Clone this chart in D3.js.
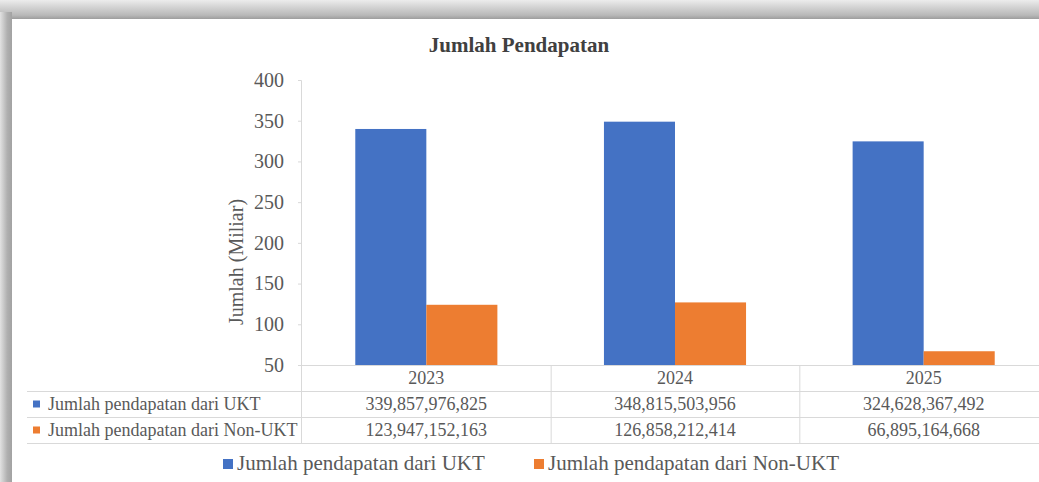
<!DOCTYPE html>
<html>
<head>
<meta charset="utf-8">
<script src="https://cdn.jsdelivr.net/npm/d3@7"></script>
<style>
  body { margin: 0; background: #fff; }
  text { font-family: 'Liberation Serif', 'Times New Roman', serif; }
</style>
</head>
<body>
<div id="chart"></div>
<script>
const years = ['2023', '2024', '2025'];
const seriesNames = ['Jumlah pendapatan dari UKT', 'Jumlah pendapatan dari Non-UKT'];
const uktValues = [339857976825, 348815503956, 324628367492];
const nonUktValues = [123947152163, 126858212414, 66895164668];
const yTicks = [50, 100, 150, 200, 250, 300, 350, 400];
const colors = ['#4472C4', '#ED7D31'];

const W = 1039;
const H = 482;
const plot = { left: 302, right: 1048, top: 80, bottom: 365 };
const rowH = 26;
const tableLeft = 27;
const textColor = '#595959';
const lineColor = '#d9d9d9';

const series = [uktValues, nonUktValues];
const fmt = d3.format(',');

const svg = d3
  .select('#chart')
  .append('svg')
  .attr('width', W)
  .attr('height', H);

// frame shadow around the page (top and left bands)
const defs = svg.append('defs');
const topGrad = defs.append('linearGradient').attr('id', 'top-band').attr('x1', 0).attr('y1', 0).attr('x2', 0).attr('y2', 1);
topGrad.append('stop').attr('offset', '0%').attr('stop-color', '#ececec');
topGrad.append('stop').attr('offset', '80%').attr('stop-color', '#b8b8b8');
topGrad.append('stop').attr('offset', '100%').attr('stop-color', '#9d9d9d');
const leftGrad = defs.append('linearGradient').attr('id', 'left-band').attr('x1', 0).attr('y1', 0).attr('x2', 1).attr('y2', 0);
leftGrad.append('stop').attr('offset', '0%').attr('stop-color', '#e2e2e2');
leftGrad.append('stop').attr('offset', '60%').attr('stop-color', '#b0b0b0');
leftGrad.append('stop').attr('offset', '100%').attr('stop-color', '#a2a2a2');

svg.append('rect').attr('x', 0).attr('y', 0).attr('width', W).attr('height', 19).attr('fill', 'url(#top-band)');
svg.append('rect').attr('x', 0).attr('y', 12).attr('width', 12).attr('height', H - 12).attr('fill', 'url(#left-band)');

// scales
const x = d3.scaleBand().domain(years).range([plot.left, plot.right]).padding(0);
const barW = x.bandwidth() / 3.5;
const x1 = d3
  .scaleBand()
  .domain(d3.range(series.length))
  .range([barW * 0.75, x.bandwidth() - barW * 0.75]);
const y = d3.scaleLinear().domain([50, 400]).range([plot.bottom, plot.top]);

// title
svg
  .append('text')
  .attr('x', 519)
  .attr('y', 52)
  .attr('text-anchor', 'middle')
  .attr('font-size', 21)
  .attr('font-weight', 'bold')
  .attr('fill', '#404040')
  .text('Jumlah Pendapatan');

// y axis
const yAxis = svg
  .append('g')
  .attr('transform', `translate(${plot.left - 1},0)`)
  .call(d3.axisLeft(y).tickValues(yTicks).tickSize(3).tickPadding(14));
yAxis.select('.domain').attr('stroke', lineColor);
yAxis.selectAll('.tick line').attr('stroke', lineColor);
yAxis
  .selectAll('.tick text')
  .attr('font-size', 20)
  .attr('font-family', "'Liberation Serif', serif")
  .attr('fill', textColor);

svg
  .append('text')
  .attr('transform', 'translate(236,262) rotate(-90)')
  .attr('text-anchor', 'middle')
  .attr('dominant-baseline', 'central')
  .attr('font-size', 20)
  .attr('fill', textColor)
  .text('Jumlah (Miliar)');

// bars
series.forEach((vals, s) => {
  svg
    .append('g')
    .selectAll('rect')
    .data(vals)
    .join('rect')
    .attr('x', (d, i) => x(years[i]) + x1(s))
    .attr('width', x1.bandwidth())
    .attr('y', (d) => y(d / 1e9))
    .attr('height', (d) => y(50) - y(d / 1e9))
    .attr('fill', colors[s]);
});

// data table
const table = svg.append('g').attr('stroke', lineColor).attr('stroke-width', 1);
table.append('line').attr('x1', plot.left - 1).attr('x2', plot.right).attr('y1', plot.bottom + 0.5).attr('y2', plot.bottom + 0.5);
[1, 2, 3].forEach((r) => {
  const yy = plot.bottom + r * rowH + 0.5;
  table.append('line').attr('x1', tableLeft).attr('x2', plot.right).attr('y1', yy).attr('y2', yy);
});
years.forEach((yr) => {
  const xx = x(yr) + x.bandwidth() + 0.5;
  table.append('line').attr('x1', xx).attr('x2', xx).attr('y1', plot.bottom).attr('y2', plot.bottom + 3 * rowH);
});
table.append('line').attr('x1', plot.left - 0.5).attr('x2', plot.left - 0.5).attr('y1', plot.bottom).attr('y2', plot.bottom + 3 * rowH);

const cellText = svg.append('g').attr('font-size', 18).attr('fill', textColor);
years.forEach((yr, i) => {
  const cx = x(yr) + x.bandwidth() / 2;
  cellText.append('text').attr('x', cx).attr('y', plot.bottom + rowH / 2 + 6).attr('text-anchor', 'middle').text(yr);
  series.forEach((vals, s) => {
    cellText
      .append('text')
      .attr('x', cx)
      .attr('y', plot.bottom + (s + 1.5) * rowH + 6)
      .attr('text-anchor', 'middle')
      .text(fmt(vals[i]));
  });
});
seriesNames.forEach((name, s) => {
  const cy = plot.bottom + (s + 1.5) * rowH;
  svg.append('rect').attr('x', 33).attr('y', cy - 3.5).attr('width', 7).attr('height', 7).attr('fill', colors[s]);
  cellText.append('text').attr('x', 48).attr('y', cy + 6).text(name);
});

// legend
const legendPos = [223, 534];
const legend = svg.append('g').attr('font-size', 21).attr('fill', textColor);
seriesNames.forEach((name, s) => {
  legend.append('rect').attr('x', legendPos[s]).attr('y', 459).attr('width', 10).attr('height', 10).attr('fill', colors[s]);
  legend.append('text').attr('x', legendPos[s] + 14).attr('y', 470).text(name);
});
</script>
</body>
</html>
